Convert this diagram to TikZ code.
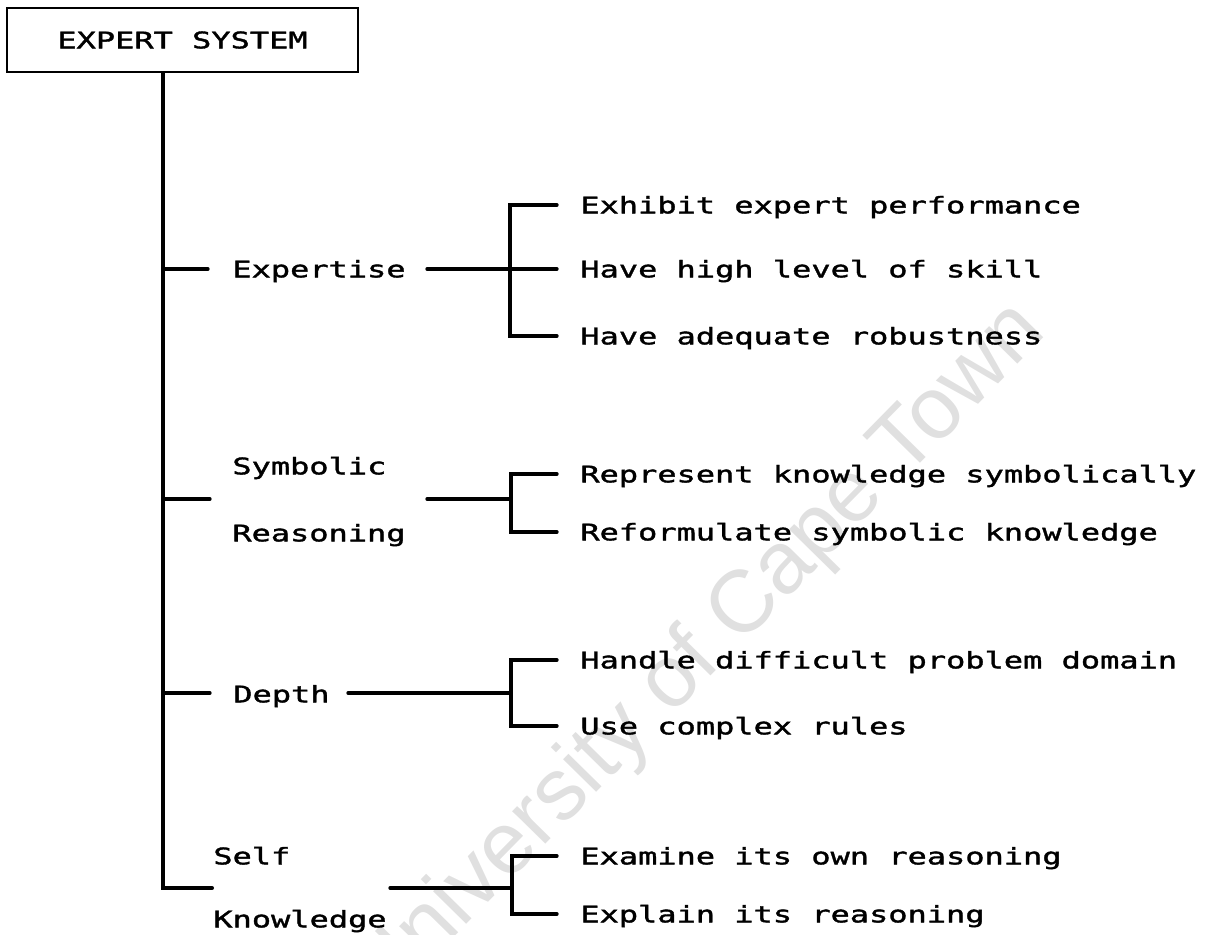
\documentclass[tikz,border=0pt]{standalone}
\usepackage{fontspec}
% wide plotter-style monospaced lettering
\newfontfamily\plotfont[FakeStretch=1.4,FakeBold=1.6]{DejaVu Sans Mono}
\newfontfamily\stampfont{Liberation Sans}
\begin{document}
\begin{tikzpicture}[x=0.02cm,y=-0.02cm,
  wire/.style={line width=1.9pt, line cap=round, line join=miter},
  trunkline/.style={line width=2.3pt, line cap=round, line join=miter},
  lbl/.style={font=\plotfont\fontsize{13}{13}\selectfont, inner sep=0pt,
    text height=9.5pt, text depth=0pt, anchor=west},
  rootbox/.style={draw, line width=1.6pt, inner sep=0pt,
    minimum width=7.02cm, minimum height=1.28cm,
    font=\plotfont\fontsize{13}{13}\selectfont, text height=9.5pt, text depth=0pt},
  stamp/.style={font=\stampfont\fontsize{50}{50}\selectfont, text=black!12,
    inner sep=0pt, rotate=45.5}
]
\useasboundingbox (0,0) rectangle (1206,935);

% faint stamp across the page
\node[stamp] (stamp) at (700,655) {University of Cape Town};

% root
\node[rootbox] (root) at (182.5,40) {EXPERT SYSTEM};

% first-level labels
\node[lbl] (exp)  at (232,269) {Expertise};
\node[lbl] (sym)  at (232,466) {Symbolic};
\node[lbl] (rea)  at (232,533) {Reasoning};
\node[lbl] (dep)  at (233,694) {Depth};
\node[lbl] (slf)  at (213,856) {Self};
\node[lbl] (knw)  at (213,919) {Knowledge};

% second-level labels
\node[lbl] (e1) at (580,205) {Exhibit expert performance};
\node[lbl] (e2) at (580,269) {Have high level of skill};
\node[lbl] (e3) at (580,336) {Have adequate robustness};
\node[lbl] (s1) at (580,474) {Represent knowledge symbolically};
\node[lbl] (s2) at (580,532) {Reformulate symbolic knowledge};
\node[lbl] (d1) at (580,660) {Handle difficult problem domain};
\node[lbl] (d2) at (580,726) {Use complex rules};
\node[lbl] (k1) at (580,856) {Examine its own reasoning};
\node[lbl] (k2) at (580,914) {Explain its reasoning};

% junction points on the trunk and the brackets
\coordinate (tE) at (163,269);
\coordinate (tS) at (163,499);
\coordinate (tD) at (163,693);
\coordinate (tK) at (163,888);
\coordinate (cE) at (208,269);
\coordinate (cS) at (210,499);
\coordinate (cD) at (210,693);
\coordinate (cK) at (212,888);
\coordinate (fE) at (427,269);
\coordinate (fS) at (427,499);
\coordinate (fD) at (348,693);
\coordinate (fK) at (390,888);
\coordinate (bE) at (510,269);
\coordinate (bS) at (511,499);
\coordinate (bD) at (511,693);
\coordinate (bK) at (512,888);

% trunk
\draw[trunkline] (root.south -| tK) -- (tK) -- (cK);
\draw[wire] (tE) -- (cE);
\draw[wire] (tS) -- (cS);
\draw[wire] (tD) -- (cD);

% feeds into the brackets
\draw[wire] (fE) -- (bE);
\draw[wire] (fS) -- (bS);
\draw[wire] (fD) -- (bD);
\draw[wire] (fK) -- (bK);

% brackets
\draw[wire] ([xshift=-0.46cm]e1.west) -- (bE |- e1.west) -- (bE |- e3.west) -- ([xshift=-0.46cm]e3.west);
\draw[wire] (bE) -- ([xshift=-0.46cm]e2.west);
\draw[wire] ([xshift=-0.46cm]s1.west) -- (bS |- s1.west) -- (bS |- s2.west) -- ([xshift=-0.46cm]s2.west);
\draw[wire] ([xshift=-0.46cm]d1.west) -- (bD |- d1.west) -- (bD |- d2.west) -- ([xshift=-0.46cm]d2.west);
\draw[wire] ([xshift=-0.46cm]k1.west) -- (bK |- k1.west) -- (bK |- k2.west) -- ([xshift=-0.46cm]k2.west);
\end{tikzpicture}
\end{document}
